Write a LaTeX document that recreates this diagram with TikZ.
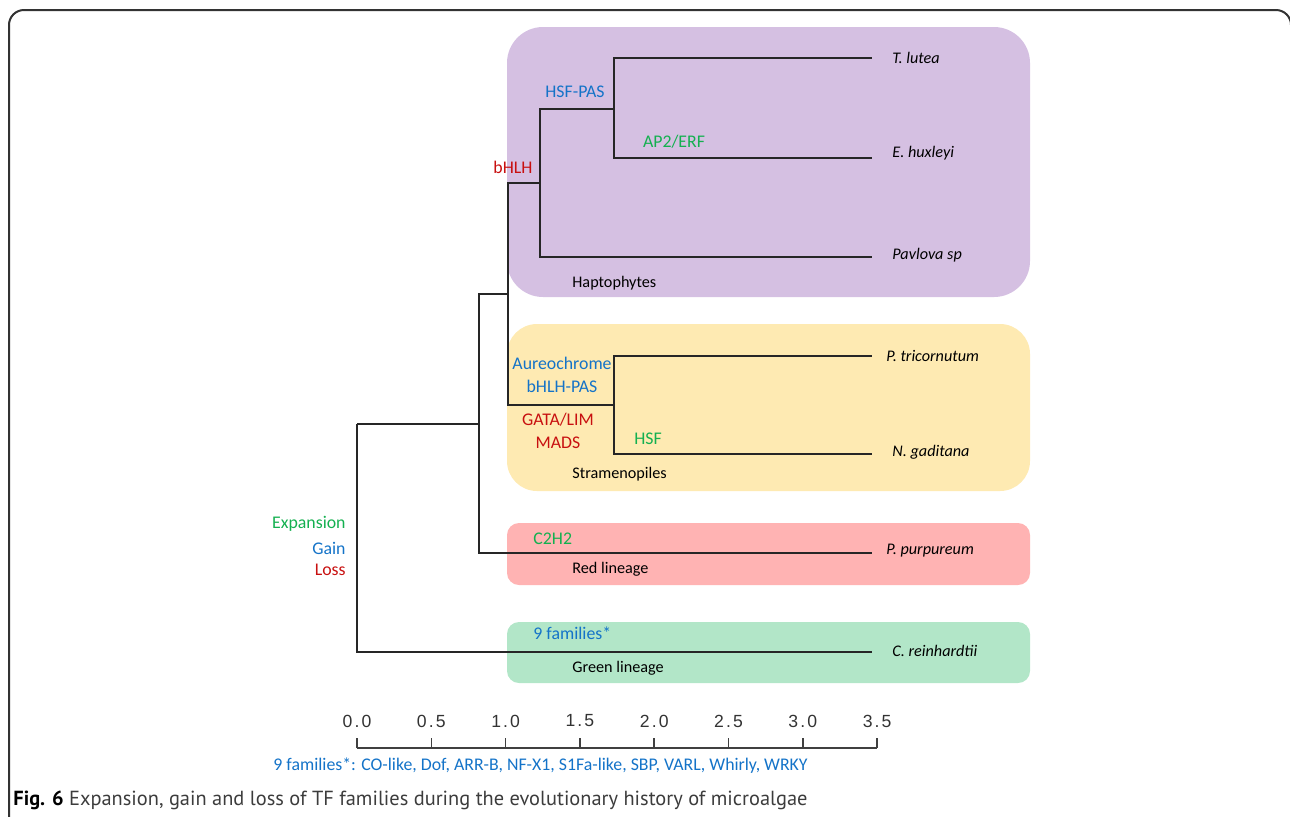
\documentclass[tikz,border=0pt]{standalone}
\usepackage{fontspec}
\setmainfont{Carlito}
\newfontfamily\axisfont[LetterSpace=12]{Liberation Sans}
\newfontfamily\capfont{PT Sans}
\usetikzlibrary{positioning}

\definecolor{haptofill}{RGB}{213,192,226}
\definecolor{stramfill}{RGB}{254,234,178}
\definecolor{redfill}{RGB}{255,179,179}
\definecolor{greenfill}{RGB}{178,230,200}
\definecolor{expcol}{RGB}{20,176,80}
\definecolor{gaincol}{RGB}{20,115,200}
\definecolor{losscol}{RGB}{200,16,16}
\definecolor{capgray}{RGB}{60,60,60}

\begin{document}
\begin{tikzpicture}[x=0.5pt,y=-0.5pt]
	% Define styles
	\tikzstyle{branch} = [line width=0.75pt, draw=black!85]
	\tikzstyle{leaf} = [inner sep=0pt, anchor=west, font=\fontsize{8.1}{9.5}\selectfont\itshape]
	\tikzstyle{group} = [inner sep=0pt, anchor=west, font=\fontsize{8.1}{9.5}\selectfont]
	\tikzstyle{event} = [inner sep=0pt, align=center, font=\fontsize{8.9}{11.2}\selectfont]
	\tikzstyle{clade} = [line width=0pt]
	\tikzstyle{ticklabel} = [inner sep=0pt, text=black!80, font=\axisfont\fontsize{8.8}{10}\selectfont]
	
	% Canvas and frame
	\useasboundingbox (0,0) rectangle (1290,816);
	\clip (0,0) rectangle (1290,816);
	\draw [line width=1pt, draw=black!80, rounded corners=7.5pt]
		(9,850) -- (9,10) -- (1291,10) -- (1291,850);
	
	% Clade backgrounds
	\fill [clade, haptofill, rounded corners=18pt] (507,27) rectangle (1030,297);
	\fill [clade, stramfill, rounded corners=15pt] (507,324) rectangle (1030,491);
	\fill [clade, redfill, rounded corners=6pt] (507,523) rectangle (1030,585);
	\fill [clade, greenfill, rounded corners=6pt] (507,622) rectangle (1030,683);
	
	% Tree nodes
	\coordinate (root) at (357,424);
	\coordinate (n1) at (479,424);
	\coordinate (n2) at (508,294);
	\coordinate (hap) at (540,183);
	\coordinate (n4) at (614,109);
	\coordinate (stra) at (614,405);
	\coordinate (tlut) at (872,58);
	\coordinate (ehux) at (872,158);
	\coordinate (pavl) at (872,257);
	\coordinate (ptri) at (872,356);
	\coordinate (ngad) at (872,454);
	\coordinate (ppur) at (872,553);
	\coordinate (crei) at (872,652);
	
	% Draw branches
	\draw [branch] (root) |- (n1);
	\draw [branch] (root) |- (crei);
	\draw [branch] (n1) |- (n2);
	\draw [branch] (n1) |- (ppur);
	\draw [branch] (n2) |- (hap);
	\draw [branch] (n2) |- (stra);
	\draw [branch] (hap) |- (n4);
	\draw [branch] (hap) |- (pavl);
	\draw [branch] (n4) |- (tlut);
	\draw [branch] (n4) |- (ehux);
	\draw [branch] (stra) |- (ptri);
	\draw [branch] (stra) |- (ngad);
	
	% Species
	\node [leaf, right=10pt of tlut] (tlutlab) {T. lutea};
	\node [leaf, right=10pt of ehux, yshift=2.5pt] (ehuxlab) {E. huxleyi};
	\node [leaf, right=10pt of pavl, yshift=1pt] (pavllab) {Pavlova sp};
	\node [leaf, right=7pt of ptri] (ptrilab) {P. tricornutum};
	\node [leaf, right=10pt of ngad, yshift=1pt] (ngadlab) {N. gaditana};
	\node [leaf, right=7pt of ppur, yshift=1pt] (ppurlab) {P. purpureum};
	\node [leaf, right=10pt of crei, yshift=0.5pt] (creilab) {C. reinhardtii};
	
	% Clade names
	\node [group] (haptlab) at (572,283) {Haptophytes};
	\node [group] (stralab) at (572,474) {Stramenopiles};
	\node [group] (redlab) at (572,569) {Red lineage};
	\node [group] (greenlab) at (572,668) {Green lineage};
	
	% Family events
	\node [event, text=gaincol] (hsfpas) at (575,92) {HSF-PAS};
	\node [event, text=expcol] (ap2) at (674,142) {AP2/ERF};
	\node [event, text=losscol] (bhlh) at (513,167) {bHLH};
	\node [event, text=gaincol] (aureo) at (562,375) {Aureochrome\\bHLH-PAS};
	\node [event, text=losscol] (gata) at (558,431) {GATA/LIM\\MADS};
	\node [event, text=expcol] (hsf) at (648,439) {HSF};
	\node [event, text=expcol, anchor=west] (c2h2) at (533,539) {C2H2};
	\node [event, text=gaincol, anchor=west] (ninefam) at (533,633) {9 families*};
	
	% Legend
	\node [event, text=expcol, anchor=east] (expan) at (346,524) {Expansion};
	\node [event, text=gaincol, anchor=east] (gain) at (346,548) {Gain};
	\node [event, text=losscol, anchor=east] (loss) at (346,570) {Loss};
	
	% Scale axis
	\coordinate (ax0) at (357,748);
	\coordinate (ax1) at (877,748);
	\draw [line width=0.75pt, draw=black!75] (ax0) -- (ax1);
	\foreach \lab [count=\i from 0] in {0.0,0.5,1.0,1.5,2.0,2.5,3.0,3.5} {
		\coordinate (tick\i) at (357+74.3*\i,748);
		\draw [line width=0.75pt, draw=black!75] (tick\i) -- ++(0,-10);
		\node [ticklabel] (lab\i) at (357+74.3*\i,721) {\lab};
	}
	
	% Footnote and caption
	\node [event, text=gaincol, anchor=west] (famlist) at (273,766)
		{9 families*: CO-like, Dof, ARR-B, NF-X1, S1Fa-like, SBP, VARL, Whirly, WRKY};
	\node [inner sep=0pt, anchor=west, text=capgray, font=\capfont\fontsize{10.2}{12}\selectfont]
		(caption) at (13,800) {\textcolor{black}{\bfseries Fig. 6} Expansion, gain and loss of TF families during the evolutionary history of microalgae};
\end{tikzpicture}
\end{document}
